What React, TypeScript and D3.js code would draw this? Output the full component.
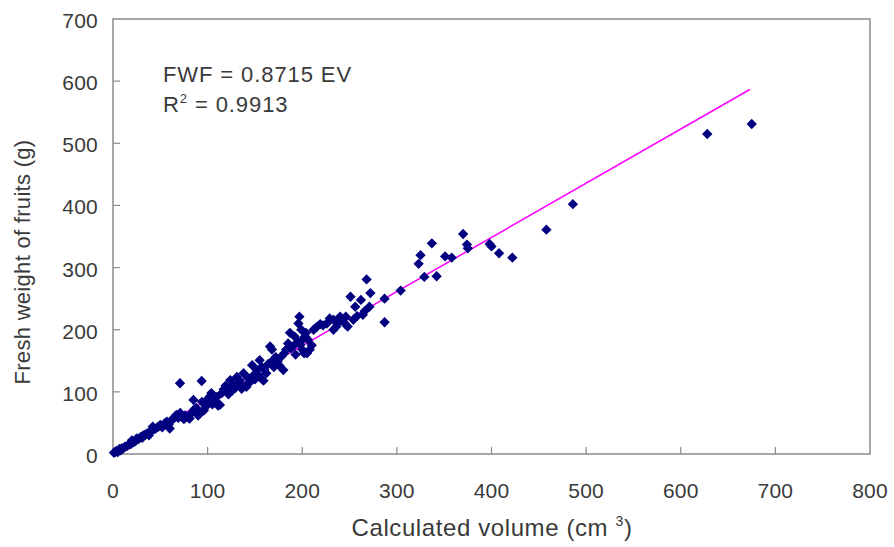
import React from "react";
import * as d3 from "d3";

const volume = [
  1, 2, 3, 4, 5, 6, 7, 8, 9, 10, 12, 13, 15, 17, 19, 20, 22, 24, 25, 27, 29, 31, 32, 34, 36, 38, 39, 41, 42, 44,
  46, 48, 50, 52, 55, 57, 59, 60, 62, 64, 66, 67, 69, 71, 70.8, 73, 75, 76, 78, 80, 81, 83, 85, 86, 88, 90, 92,
  93.7, 94, 96, 98, 100, 102, 104, 105, 106, 108, 110, 111, 113, 115, 117, 119, 120, 122, 124, 126, 127, 129, 131,
  133, 134, 136, 138, 140, 141, 143, 145, 147, 148, 150, 152, 153, 155, 155, 157, 159, 160, 162, 164, 166, 168,
  169, 170, 172, 174, 176, 178, 180, 181, 183, 185, 187, 188, 190, 192, 193, 195, 196, 197, 198, 199, 200, 201,
  202, 203, 204, 205, 206, 208, 210, 212, 215, 219, 222, 226, 229, 233, 233, 236, 238, 240, 242, 245, 246, 248,
  251, 254, 256, 258, 262, 264, 266, 268, 271, 272, 287, 287, 304, 323, 325, 329, 337, 342, 351, 358, 370, 375,
  374, 398, 400, 408, 422, 458, 486, 628, 675,
];
const weight = [
  2, 3, 4, 5, 3, 6, 8, 6, 9, 8, 11, 12, 13, 15, 16, 22, 19, 21, 25, 24, 27, 26, 30, 31, 33, 30, 36, 38, 44, 40,
  42, 44, 47, 43, 50, 52, 48, 41, 55, 57, 60, 63, 58, 66, 113.8, 60, 56, 62, 60, 58, 57, 66, 87, 72, 74, 62, 66,
  117.5, 84, 70, 76, 88, 92, 98, 80, 82, 85, 92, 78, 79, 98, 104, 110, 108, 96, 119, 102, 112, 106, 124,
  114, 118, 105, 130, 110, 108, 122, 116, 143, 126, 120, 135, 128, 124, 151, 140, 118, 136, 130, 145, 173, 168,
  151, 140, 156, 149, 142, 157, 135, 162, 168, 178, 195, 170, 173, 189, 160, 180, 210, 221, 176, 200, 168, 185,
  162, 189, 195, 162, 184, 168, 175, 200, 204, 209, 207, 210, 218, 216, 200, 205, 212, 221, 215, 210, 221, 205,
  253, 216, 237, 222, 248, 224, 230, 281, 237, 259, 250, 212, 263, 306, 320, 285, 339, 286, 318, 316, 354, 331,
  337, 338, 334, 323, 316, 361, 402, 515, 531,
];

const xTicks = [0, 100, 200, 300, 400, 500, 600, 700, 800];
const yTicks = [0, 100, 200, 300, 400, 500, 600, 700];
const slope = 0.8715;
const fitRange = [0, 673];

const W = 894;
const H = 547;
const left = 113;
const right = 870;
const top = 19;
const bottom = 454;
const font = "'Liberation Sans', Arial, sans-serif";
const textColor = "#3a3a3a";
const axisColor = "#8a8a8a";

export default function App() {
  const x = d3.scaleLinear().domain([0, 800]).range([left, right]);
  const y = d3.scaleLinear().domain([0, 700]).range([bottom, top]);
  const pts = volume.map((v, i) => ({ v, w: weight[i] }));
  const diamond = d3.symbol().type(d3.symbolDiamond2).size(68)();
  const line = d3.line<number>().x((d) => x(d)).y((d) => y(slope * d));

  return (
    <svg width={W} height={H} style={{ position: "absolute", left: 0, top: 0, background: "#fff" }} fontFamily={font}>
      <rect x={0} y={0} width={W} height={H} fill="#fff" />
      <rect x={left} y={top} width={right - left} height={bottom - top} fill="none" stroke={axisColor} strokeWidth={1.5} />
      {xTicks.map((t) => (
        <g key={"x" + t}>
          {t > 0 && t < 800 && <line x1={x(t)} x2={x(t)} y1={bottom} y2={bottom - 7} stroke={axisColor} strokeWidth={1.2} />}
          <text x={x(t)} y={498} textAnchor="middle" fontSize={21} fill={textColor} letterSpacing={0.2}>
            {t}
          </text>
        </g>
      ))}
      {yTicks.map((t) => (
        <g key={"y" + t}>
          {t > 0 && t < 700 && <line x1={left} x2={left + 7} y1={y(t)} y2={y(t)} stroke={axisColor} strokeWidth={1.2} />}
          <text x={98} y={y(t) + 9} textAnchor="end" fontSize={21} fill={textColor} letterSpacing={0.2}>
            {t}
          </text>
        </g>
      ))}
      <path d={line(fitRange) || ""} stroke="#ff00ff" strokeWidth={1.5} fill="none" />
      {pts.map((p, i) => (
        <path key={i} d={diamond} transform={`translate(${x(p.v)},${y(p.w)})`} fill="#000080" />
      ))}
      <text x={163} y={82} fontSize={22} fill={textColor} letterSpacing={0.9}>
        FWF = 0.8715 EV
      </text>
      <text x={163} y={112} fontSize={22} fill={textColor} letterSpacing={0.9}>
        R<tspan dy={-9} fontSize={13}>2</tspan>
        <tspan dy={9}> = 0.9913</tspan>
      </text>
      <text x={492} y={536} textAnchor="middle" fontSize={24} fill={textColor} letterSpacing={0.6}>
        Calculated volume (cm <tspan dy={-10} fontSize={14}>3</tspan>
        <tspan dy={10}>)</tspan>
      </text>
      <text transform={`translate(30,262) rotate(-90)`} textAnchor="middle" fontSize={22} fill={textColor} letterSpacing={0.3}>
        Fresh weight of fruits (g)
      </text>
    </svg>
  );
}
